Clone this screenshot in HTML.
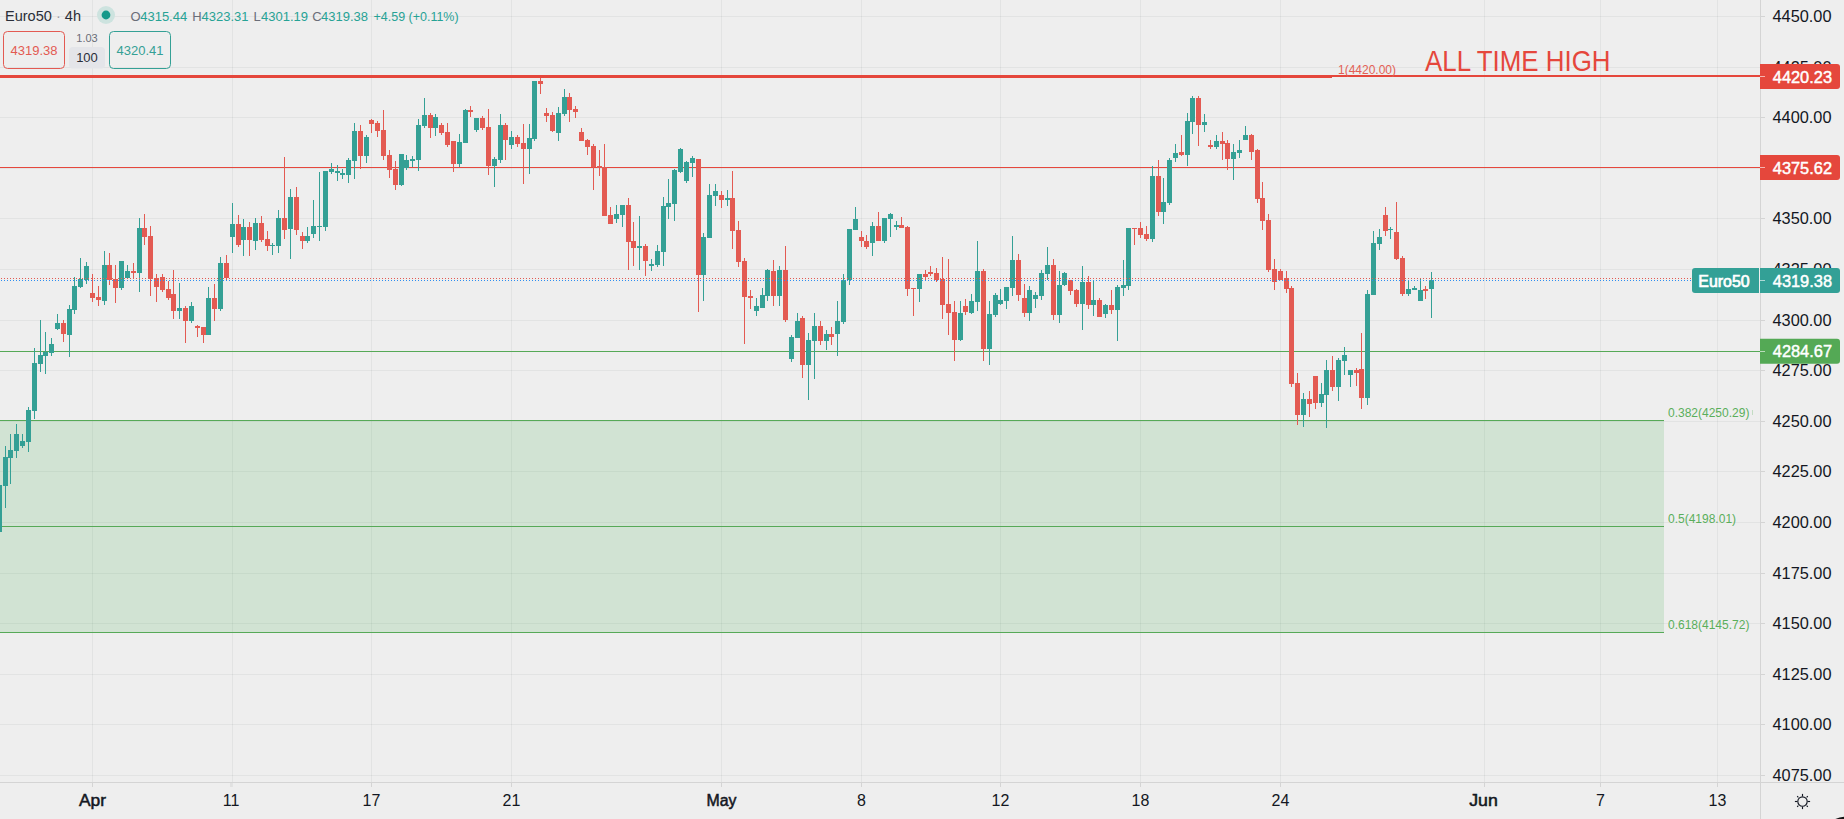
<!DOCTYPE html>
<html><head><meta charset="utf-8"><style>
html,body{margin:0;padding:0;width:1844px;height:819px;overflow:hidden;background:#eeeeee;}
svg{position:absolute;left:0;top:0;display:block}
text{font-family:"Liberation Sans",sans-serif;}
.ax{font-size:16px;fill:#131722;}
.t{font-size:16px;fill:#131722;}
.tb{font-size:16px;fill:#131722;stroke:#131722;stroke-width:0.5px;}
.pl{font-size:16px;fill:#ffffff;stroke:#ffffff;stroke-width:0.45px;}
.fibr{font-size:12px;fill:#e35f55;}
.fibg{font-size:12px;fill:#5aae5b;}
.ath{font-size:29.4px;fill:#e5473c;}
.lg{font-size:15.5px;fill:#2a2e39;}
.ohlc{font-size:13px;fill:#26a295;}
.ohlc[fill]{}
.box{font-size:13px;}
.sm{font-size:11px;fill:#6a6d78;}
</style></head>
<body><svg width="1844" height="819" viewBox="0 0 1844 819">
<rect x="0" y="16" width="1765" height="1" fill="rgba(42,46,57,0.06)"/>
<rect x="0" y="67" width="1765" height="1" fill="rgba(42,46,57,0.06)"/>
<rect x="0" y="117" width="1765" height="1" fill="rgba(42,46,57,0.06)"/>
<rect x="0" y="168" width="1765" height="1" fill="rgba(42,46,57,0.06)"/>
<rect x="0" y="218" width="1765" height="1" fill="rgba(42,46,57,0.06)"/>
<rect x="0" y="269" width="1765" height="1" fill="rgba(42,46,57,0.06)"/>
<rect x="0" y="320" width="1765" height="1" fill="rgba(42,46,57,0.06)"/>
<rect x="0" y="370" width="1765" height="1" fill="rgba(42,46,57,0.06)"/>
<rect x="0" y="421" width="1765" height="1" fill="rgba(42,46,57,0.06)"/>
<rect x="0" y="471" width="1765" height="1" fill="rgba(42,46,57,0.06)"/>
<rect x="0" y="522" width="1765" height="1" fill="rgba(42,46,57,0.06)"/>
<rect x="0" y="573" width="1765" height="1" fill="rgba(42,46,57,0.06)"/>
<rect x="0" y="623" width="1765" height="1" fill="rgba(42,46,57,0.06)"/>
<rect x="0" y="674" width="1765" height="1" fill="rgba(42,46,57,0.06)"/>
<rect x="0" y="724" width="1765" height="1" fill="rgba(42,46,57,0.06)"/>
<rect x="0" y="775" width="1765" height="1" fill="rgba(42,46,57,0.06)"/>
<rect x="92" y="0" width="1" height="787" fill="rgba(42,46,57,0.06)"/>
<rect x="232" y="0" width="1" height="787" fill="rgba(42,46,57,0.06)"/>
<rect x="371" y="0" width="1" height="787" fill="rgba(42,46,57,0.06)"/>
<rect x="511" y="0" width="1" height="787" fill="rgba(42,46,57,0.06)"/>
<rect x="721" y="0" width="1" height="787" fill="rgba(42,46,57,0.06)"/>
<rect x="861" y="0" width="1" height="787" fill="rgba(42,46,57,0.06)"/>
<rect x="1000" y="0" width="1" height="787" fill="rgba(42,46,57,0.06)"/>
<rect x="1140" y="0" width="1" height="787" fill="rgba(42,46,57,0.06)"/>
<rect x="1280" y="0" width="1" height="787" fill="rgba(42,46,57,0.06)"/>
<rect x="1484" y="0" width="1" height="787" fill="rgba(42,46,57,0.06)"/>
<rect x="1600" y="0" width="1" height="787" fill="rgba(42,46,57,0.06)"/>
<rect x="1717" y="0" width="1" height="787" fill="rgba(42,46,57,0.06)"/>
<rect x="0" y="421" width="1664" height="211" fill="rgba(80,175,90,0.18)"/>
<rect x="0" y="420" width="1664" height="1" fill="#56a957"/>
<rect x="0" y="526" width="1664" height="1" fill="#56a957"/>
<rect x="0" y="632" width="1664" height="1" fill="#56a957"/>
<rect x="0" y="75" width="1760" height="2" fill="#e5473c"/>
<rect x="0" y="77" width="1332" height="1" fill="#e5473c"/>
<rect x="0" y="167" width="1760" height="1" fill="#e5473c"/>
<rect x="0" y="351" width="1760" height="1" fill="#56a957"/>
<rect x="-1" y="485" width="1" height="47" fill="#34a095"/>
<rect x="-3" y="485" width="5" height="47" fill="#34a095"/>
<rect x="5" y="446" width="1" height="62" fill="#34a095"/>
<rect x="3" y="457" width="5" height="29" fill="#34a095"/>
<rect x="10" y="434" width="1" height="50" fill="#34a095"/>
<rect x="8" y="450" width="5" height="8" fill="#34a095"/>
<rect x="16" y="424" width="1" height="34" fill="#34a095"/>
<rect x="14" y="434" width="5" height="17" fill="#34a095"/>
<rect x="22" y="434" width="1" height="14" fill="#34a095"/>
<rect x="20" y="441" width="5" height="5" fill="#34a095"/>
<rect x="28" y="407" width="1" height="45" fill="#34a095"/>
<rect x="26" y="410" width="5" height="32" fill="#34a095"/>
<rect x="34" y="348" width="1" height="71" fill="#34a095"/>
<rect x="32" y="363" width="5" height="48" fill="#34a095"/>
<rect x="40" y="320" width="1" height="52" fill="#34a095"/>
<rect x="38" y="355" width="5" height="9" fill="#34a095"/>
<rect x="45" y="332" width="1" height="42" fill="#34a095"/>
<rect x="43" y="352" width="5" height="4" fill="#34a095"/>
<rect x="51" y="338" width="1" height="18" fill="#34a095"/>
<rect x="49" y="344" width="5" height="9" fill="#34a095"/>
<rect x="57" y="314" width="1" height="16" fill="#34a095"/>
<rect x="55" y="323" width="5" height="6" fill="#34a095"/>
<rect x="63" y="320" width="1" height="22" fill="#e35a52"/>
<rect x="61" y="323" width="5" height="11" fill="#e35a52"/>
<rect x="69" y="305" width="1" height="52" fill="#34a095"/>
<rect x="67" y="309" width="5" height="26" fill="#34a095"/>
<rect x="74" y="277" width="1" height="37" fill="#34a095"/>
<rect x="72" y="286" width="5" height="24" fill="#34a095"/>
<rect x="80" y="258" width="1" height="30" fill="#34a095"/>
<rect x="78" y="279" width="5" height="8" fill="#34a095"/>
<rect x="86" y="262" width="1" height="22" fill="#34a095"/>
<rect x="84" y="266" width="5" height="14" fill="#34a095"/>
<rect x="92" y="274" width="1" height="28" fill="#e35a52"/>
<rect x="90" y="293" width="5" height="5" fill="#e35a52"/>
<rect x="98" y="286" width="1" height="20" fill="#e35a52"/>
<rect x="96" y="297" width="5" height="3" fill="#e35a52"/>
<rect x="104" y="251" width="1" height="54" fill="#34a095"/>
<rect x="102" y="265" width="5" height="36" fill="#34a095"/>
<rect x="109" y="253" width="1" height="32" fill="#e35a52"/>
<rect x="107" y="265" width="5" height="15" fill="#e35a52"/>
<rect x="115" y="265" width="1" height="38" fill="#e35a52"/>
<rect x="113" y="279" width="5" height="9" fill="#e35a52"/>
<rect x="121" y="261" width="1" height="29" fill="#34a095"/>
<rect x="119" y="261" width="5" height="27" fill="#34a095"/>
<rect x="127" y="265" width="1" height="13" fill="#34a095"/>
<rect x="125" y="271" width="5" height="7" fill="#34a095"/>
<rect x="133" y="263" width="1" height="16" fill="#e35a52"/>
<rect x="131" y="271" width="5" height="2" fill="#e35a52"/>
<rect x="139" y="218" width="1" height="74" fill="#34a095"/>
<rect x="137" y="228" width="5" height="45" fill="#34a095"/>
<rect x="144" y="214" width="1" height="31" fill="#e35a52"/>
<rect x="142" y="228" width="5" height="9" fill="#e35a52"/>
<rect x="150" y="226" width="1" height="70" fill="#e35a52"/>
<rect x="148" y="236" width="5" height="43" fill="#e35a52"/>
<rect x="156" y="274" width="1" height="28" fill="#e35a52"/>
<rect x="154" y="278" width="5" height="9" fill="#e35a52"/>
<rect x="162" y="274" width="1" height="18" fill="#e35a52"/>
<rect x="160" y="277" width="5" height="13" fill="#e35a52"/>
<rect x="168" y="281" width="1" height="19" fill="#e35a52"/>
<rect x="166" y="289" width="5" height="9" fill="#e35a52"/>
<rect x="173" y="270" width="1" height="49" fill="#e35a52"/>
<rect x="171" y="294" width="5" height="17" fill="#e35a52"/>
<rect x="179" y="283" width="1" height="36" fill="#34a095"/>
<rect x="177" y="308" width="5" height="3" fill="#34a095"/>
<rect x="185" y="306" width="1" height="37" fill="#e35a52"/>
<rect x="183" y="308" width="5" height="13" fill="#e35a52"/>
<rect x="191" y="302" width="1" height="21" fill="#34a095"/>
<rect x="189" y="306" width="5" height="15" fill="#34a095"/>
<rect x="197" y="325" width="1" height="12" fill="#e35a52"/>
<rect x="195" y="326" width="5" height="2" fill="#e35a52"/>
<rect x="203" y="327" width="1" height="16" fill="#e35a52"/>
<rect x="201" y="327" width="5" height="8" fill="#e35a52"/>
<rect x="208" y="287" width="1" height="48" fill="#34a095"/>
<rect x="206" y="298" width="5" height="37" fill="#34a095"/>
<rect x="214" y="284" width="1" height="37" fill="#e35a52"/>
<rect x="212" y="298" width="5" height="11" fill="#e35a52"/>
<rect x="220" y="257" width="1" height="54" fill="#34a095"/>
<rect x="218" y="263" width="5" height="46" fill="#34a095"/>
<rect x="226" y="255" width="1" height="26" fill="#e35a52"/>
<rect x="224" y="263" width="5" height="15" fill="#e35a52"/>
<rect x="232" y="203" width="1" height="50" fill="#34a095"/>
<rect x="230" y="224" width="5" height="13" fill="#34a095"/>
<rect x="238" y="215" width="1" height="32" fill="#e35a52"/>
<rect x="236" y="224" width="5" height="21" fill="#e35a52"/>
<rect x="243" y="219" width="1" height="37" fill="#34a095"/>
<rect x="241" y="227" width="5" height="13" fill="#34a095"/>
<rect x="249" y="222" width="1" height="34" fill="#e35a52"/>
<rect x="247" y="227" width="5" height="13" fill="#e35a52"/>
<rect x="255" y="218" width="1" height="32" fill="#34a095"/>
<rect x="253" y="223" width="5" height="18" fill="#34a095"/>
<rect x="261" y="216" width="1" height="26" fill="#e35a52"/>
<rect x="259" y="223" width="5" height="17" fill="#e35a52"/>
<rect x="267" y="231" width="1" height="20" fill="#e35a52"/>
<rect x="265" y="239" width="5" height="7" fill="#e35a52"/>
<rect x="272" y="243" width="1" height="12" fill="#34a095"/>
<rect x="270" y="245" width="5" height="1" fill="#34a095"/>
<rect x="278" y="210" width="1" height="43" fill="#34a095"/>
<rect x="276" y="218" width="5" height="28" fill="#34a095"/>
<rect x="284" y="157" width="1" height="82" fill="#e35a52"/>
<rect x="282" y="218" width="5" height="12" fill="#e35a52"/>
<rect x="290" y="189" width="1" height="70" fill="#34a095"/>
<rect x="288" y="197" width="5" height="32" fill="#34a095"/>
<rect x="296" y="187" width="1" height="48" fill="#e35a52"/>
<rect x="294" y="197" width="5" height="33" fill="#e35a52"/>
<rect x="302" y="232" width="1" height="17" fill="#e35a52"/>
<rect x="300" y="236" width="5" height="5" fill="#e35a52"/>
<rect x="307" y="227" width="1" height="16" fill="#34a095"/>
<rect x="305" y="236" width="5" height="5" fill="#34a095"/>
<rect x="313" y="200" width="1" height="38" fill="#34a095"/>
<rect x="311" y="226" width="5" height="8" fill="#34a095"/>
<rect x="319" y="172" width="1" height="69" fill="#34a095"/>
<rect x="317" y="226" width="5" height="1" fill="#34a095"/>
<rect x="325" y="171" width="1" height="60" fill="#34a095"/>
<rect x="323" y="171" width="5" height="56" fill="#34a095"/>
<rect x="331" y="163" width="1" height="11" fill="#34a095"/>
<rect x="329" y="169" width="5" height="3" fill="#34a095"/>
<rect x="337" y="165" width="1" height="16" fill="#34a095"/>
<rect x="335" y="171" width="5" height="2" fill="#34a095"/>
<rect x="342" y="169" width="1" height="10" fill="#34a095"/>
<rect x="340" y="173" width="5" height="2" fill="#34a095"/>
<rect x="348" y="158" width="1" height="25" fill="#34a095"/>
<rect x="346" y="160" width="5" height="15" fill="#34a095"/>
<rect x="354" y="123" width="1" height="56" fill="#34a095"/>
<rect x="352" y="131" width="5" height="30" fill="#34a095"/>
<rect x="360" y="125" width="1" height="44" fill="#e35a52"/>
<rect x="358" y="131" width="5" height="25" fill="#e35a52"/>
<rect x="366" y="135" width="1" height="28" fill="#34a095"/>
<rect x="364" y="137" width="5" height="19" fill="#34a095"/>
<rect x="371" y="119" width="1" height="14" fill="#e35a52"/>
<rect x="369" y="120" width="5" height="4" fill="#e35a52"/>
<rect x="377" y="121" width="1" height="16" fill="#e35a52"/>
<rect x="375" y="123" width="5" height="8" fill="#e35a52"/>
<rect x="383" y="110" width="1" height="50" fill="#e35a52"/>
<rect x="381" y="130" width="5" height="26" fill="#e35a52"/>
<rect x="389" y="150" width="1" height="28" fill="#e35a52"/>
<rect x="387" y="155" width="5" height="15" fill="#e35a52"/>
<rect x="395" y="161" width="1" height="29" fill="#e35a52"/>
<rect x="393" y="169" width="5" height="16" fill="#e35a52"/>
<rect x="401" y="154" width="1" height="32" fill="#34a095"/>
<rect x="399" y="154" width="5" height="31" fill="#34a095"/>
<rect x="406" y="155" width="1" height="15" fill="#34a095"/>
<rect x="404" y="160" width="5" height="8" fill="#34a095"/>
<rect x="412" y="156" width="1" height="11" fill="#34a095"/>
<rect x="410" y="159" width="5" height="2" fill="#34a095"/>
<rect x="418" y="119" width="1" height="52" fill="#34a095"/>
<rect x="416" y="125" width="5" height="35" fill="#34a095"/>
<rect x="424" y="98" width="1" height="30" fill="#34a095"/>
<rect x="422" y="115" width="5" height="11" fill="#34a095"/>
<rect x="430" y="113" width="1" height="25" fill="#e35a52"/>
<rect x="428" y="115" width="5" height="13" fill="#e35a52"/>
<rect x="435" y="114" width="1" height="22" fill="#34a095"/>
<rect x="433" y="117" width="5" height="11" fill="#34a095"/>
<rect x="441" y="123" width="1" height="12" fill="#e35a52"/>
<rect x="439" y="125" width="5" height="8" fill="#e35a52"/>
<rect x="447" y="123" width="1" height="24" fill="#e35a52"/>
<rect x="445" y="132" width="5" height="13" fill="#e35a52"/>
<rect x="453" y="141" width="1" height="31" fill="#e35a52"/>
<rect x="451" y="141" width="5" height="23" fill="#e35a52"/>
<rect x="459" y="134" width="1" height="33" fill="#34a095"/>
<rect x="457" y="142" width="5" height="22" fill="#34a095"/>
<rect x="465" y="109" width="1" height="34" fill="#34a095"/>
<rect x="463" y="110" width="5" height="33" fill="#34a095"/>
<rect x="470" y="106" width="1" height="11" fill="#e35a52"/>
<rect x="468" y="110" width="5" height="2" fill="#e35a52"/>
<rect x="476" y="118" width="1" height="14" fill="#34a095"/>
<rect x="474" y="118" width="5" height="12" fill="#34a095"/>
<rect x="482" y="116" width="1" height="14" fill="#e35a52"/>
<rect x="480" y="118" width="5" height="10" fill="#e35a52"/>
<rect x="488" y="109" width="1" height="66" fill="#e35a52"/>
<rect x="486" y="127" width="5" height="39" fill="#e35a52"/>
<rect x="494" y="157" width="1" height="30" fill="#34a095"/>
<rect x="492" y="159" width="5" height="7" fill="#34a095"/>
<rect x="500" y="114" width="1" height="49" fill="#34a095"/>
<rect x="498" y="125" width="5" height="35" fill="#34a095"/>
<rect x="505" y="123" width="1" height="37" fill="#e35a52"/>
<rect x="503" y="125" width="5" height="15" fill="#e35a52"/>
<rect x="511" y="131" width="1" height="18" fill="#34a095"/>
<rect x="509" y="137" width="5" height="8" fill="#34a095"/>
<rect x="517" y="135" width="1" height="12" fill="#e35a52"/>
<rect x="515" y="137" width="5" height="7" fill="#e35a52"/>
<rect x="523" y="124" width="1" height="60" fill="#e35a52"/>
<rect x="521" y="143" width="5" height="6" fill="#e35a52"/>
<rect x="529" y="124" width="1" height="50" fill="#34a095"/>
<rect x="527" y="138" width="5" height="11" fill="#34a095"/>
<rect x="534" y="81" width="1" height="60" fill="#34a095"/>
<rect x="532" y="81" width="5" height="58" fill="#34a095"/>
<rect x="540" y="78" width="1" height="16" fill="#e35a52"/>
<rect x="538" y="81" width="5" height="3" fill="#e35a52"/>
<rect x="546" y="108" width="1" height="14" fill="#e35a52"/>
<rect x="544" y="113" width="5" height="3" fill="#e35a52"/>
<rect x="552" y="112" width="1" height="20" fill="#e35a52"/>
<rect x="550" y="115" width="5" height="16" fill="#e35a52"/>
<rect x="558" y="107" width="1" height="34" fill="#34a095"/>
<rect x="556" y="113" width="5" height="20" fill="#34a095"/>
<rect x="564" y="89" width="1" height="27" fill="#34a095"/>
<rect x="562" y="97" width="5" height="17" fill="#34a095"/>
<rect x="569" y="93" width="1" height="29" fill="#e35a52"/>
<rect x="567" y="97" width="5" height="13" fill="#e35a52"/>
<rect x="575" y="106" width="1" height="12" fill="#e35a52"/>
<rect x="573" y="109" width="5" height="3" fill="#e35a52"/>
<rect x="581" y="128" width="1" height="13" fill="#e35a52"/>
<rect x="579" y="132" width="5" height="9" fill="#e35a52"/>
<rect x="587" y="139" width="1" height="16" fill="#e35a52"/>
<rect x="585" y="140" width="5" height="7" fill="#e35a52"/>
<rect x="593" y="144" width="1" height="46" fill="#e35a52"/>
<rect x="591" y="146" width="5" height="21" fill="#e35a52"/>
<rect x="599" y="150" width="1" height="26" fill="#e35a52"/>
<rect x="597" y="166" width="5" height="2" fill="#e35a52"/>
<rect x="604" y="144" width="1" height="72" fill="#e35a52"/>
<rect x="602" y="167" width="5" height="49" fill="#e35a52"/>
<rect x="610" y="207" width="1" height="17" fill="#e35a52"/>
<rect x="608" y="215" width="5" height="9" fill="#e35a52"/>
<rect x="616" y="205" width="1" height="18" fill="#34a095"/>
<rect x="614" y="214" width="5" height="5" fill="#34a095"/>
<rect x="622" y="205" width="1" height="22" fill="#34a095"/>
<rect x="620" y="205" width="5" height="10" fill="#34a095"/>
<rect x="628" y="198" width="1" height="72" fill="#e35a52"/>
<rect x="626" y="205" width="5" height="37" fill="#e35a52"/>
<rect x="633" y="222" width="1" height="44" fill="#e35a52"/>
<rect x="631" y="241" width="5" height="7" fill="#e35a52"/>
<rect x="639" y="216" width="1" height="54" fill="#34a095"/>
<rect x="637" y="246" width="5" height="2" fill="#34a095"/>
<rect x="645" y="244" width="1" height="32" fill="#e35a52"/>
<rect x="643" y="246" width="5" height="15" fill="#e35a52"/>
<rect x="651" y="259" width="1" height="12" fill="#34a095"/>
<rect x="649" y="264" width="5" height="2" fill="#34a095"/>
<rect x="657" y="245" width="1" height="22" fill="#34a095"/>
<rect x="655" y="251" width="5" height="14" fill="#34a095"/>
<rect x="663" y="197" width="1" height="69" fill="#34a095"/>
<rect x="661" y="206" width="5" height="46" fill="#34a095"/>
<rect x="668" y="179" width="1" height="40" fill="#34a095"/>
<rect x="666" y="203" width="5" height="4" fill="#34a095"/>
<rect x="674" y="169" width="1" height="52" fill="#34a095"/>
<rect x="672" y="170" width="5" height="34" fill="#34a095"/>
<rect x="680" y="148" width="1" height="25" fill="#34a095"/>
<rect x="678" y="149" width="5" height="23" fill="#34a095"/>
<rect x="686" y="161" width="1" height="22" fill="#34a095"/>
<rect x="684" y="162" width="5" height="19" fill="#34a095"/>
<rect x="692" y="156" width="1" height="21" fill="#34a095"/>
<rect x="690" y="158" width="5" height="5" fill="#34a095"/>
<rect x="698" y="159" width="1" height="153" fill="#e35a52"/>
<rect x="696" y="159" width="5" height="116" fill="#e35a52"/>
<rect x="703" y="233" width="1" height="68" fill="#34a095"/>
<rect x="701" y="237" width="5" height="38" fill="#34a095"/>
<rect x="709" y="184" width="1" height="54" fill="#34a095"/>
<rect x="707" y="195" width="5" height="43" fill="#34a095"/>
<rect x="715" y="184" width="1" height="22" fill="#34a095"/>
<rect x="713" y="191" width="5" height="5" fill="#34a095"/>
<rect x="721" y="191" width="1" height="17" fill="#e35a52"/>
<rect x="719" y="195" width="5" height="5" fill="#e35a52"/>
<rect x="727" y="190" width="1" height="16" fill="#34a095"/>
<rect x="725" y="198" width="5" height="2" fill="#34a095"/>
<rect x="732" y="171" width="1" height="78" fill="#e35a52"/>
<rect x="730" y="198" width="5" height="33" fill="#e35a52"/>
<rect x="738" y="221" width="1" height="46" fill="#e35a52"/>
<rect x="736" y="230" width="5" height="32" fill="#e35a52"/>
<rect x="744" y="258" width="1" height="86" fill="#e35a52"/>
<rect x="742" y="261" width="5" height="36" fill="#e35a52"/>
<rect x="750" y="290" width="1" height="19" fill="#e35a52"/>
<rect x="748" y="296" width="5" height="2" fill="#e35a52"/>
<rect x="756" y="298" width="1" height="18" fill="#34a095"/>
<rect x="754" y="306" width="5" height="5" fill="#34a095"/>
<rect x="762" y="288" width="1" height="20" fill="#34a095"/>
<rect x="760" y="295" width="5" height="13" fill="#34a095"/>
<rect x="767" y="269" width="1" height="32" fill="#34a095"/>
<rect x="765" y="270" width="5" height="26" fill="#34a095"/>
<rect x="773" y="260" width="1" height="46" fill="#e35a52"/>
<rect x="771" y="271" width="5" height="25" fill="#e35a52"/>
<rect x="779" y="266" width="1" height="40" fill="#34a095"/>
<rect x="777" y="270" width="5" height="26" fill="#34a095"/>
<rect x="785" y="246" width="1" height="76" fill="#e35a52"/>
<rect x="783" y="270" width="5" height="50" fill="#e35a52"/>
<rect x="791" y="335" width="1" height="27" fill="#34a095"/>
<rect x="789" y="337" width="5" height="22" fill="#34a095"/>
<rect x="797" y="313" width="1" height="25" fill="#34a095"/>
<rect x="795" y="321" width="5" height="17" fill="#34a095"/>
<rect x="802" y="316" width="1" height="62" fill="#e35a52"/>
<rect x="800" y="318" width="5" height="47" fill="#e35a52"/>
<rect x="808" y="333" width="1" height="67" fill="#34a095"/>
<rect x="806" y="340" width="5" height="25" fill="#34a095"/>
<rect x="814" y="313" width="1" height="66" fill="#34a095"/>
<rect x="812" y="326" width="5" height="15" fill="#34a095"/>
<rect x="820" y="321" width="1" height="24" fill="#e35a52"/>
<rect x="818" y="326" width="5" height="15" fill="#e35a52"/>
<rect x="826" y="330" width="1" height="20" fill="#34a095"/>
<rect x="824" y="334" width="5" height="7" fill="#34a095"/>
<rect x="831" y="327" width="1" height="18" fill="#e35a52"/>
<rect x="829" y="334" width="5" height="3" fill="#e35a52"/>
<rect x="837" y="301" width="1" height="55" fill="#34a095"/>
<rect x="835" y="321" width="5" height="13" fill="#34a095"/>
<rect x="843" y="274" width="1" height="50" fill="#34a095"/>
<rect x="841" y="280" width="5" height="42" fill="#34a095"/>
<rect x="849" y="229" width="1" height="56" fill="#34a095"/>
<rect x="847" y="229" width="5" height="51" fill="#34a095"/>
<rect x="855" y="207" width="1" height="23" fill="#34a095"/>
<rect x="853" y="219" width="5" height="11" fill="#34a095"/>
<rect x="861" y="231" width="1" height="16" fill="#e35a52"/>
<rect x="859" y="237" width="5" height="4" fill="#e35a52"/>
<rect x="866" y="235" width="1" height="14" fill="#e35a52"/>
<rect x="864" y="241" width="5" height="6" fill="#e35a52"/>
<rect x="872" y="222" width="1" height="34" fill="#34a095"/>
<rect x="870" y="226" width="5" height="17" fill="#34a095"/>
<rect x="878" y="212" width="1" height="29" fill="#e35a52"/>
<rect x="876" y="226" width="5" height="15" fill="#e35a52"/>
<rect x="884" y="218" width="1" height="25" fill="#34a095"/>
<rect x="882" y="218" width="5" height="23" fill="#34a095"/>
<rect x="890" y="213" width="1" height="24" fill="#34a095"/>
<rect x="888" y="214" width="5" height="5" fill="#34a095"/>
<rect x="896" y="221" width="1" height="9" fill="#34a095"/>
<rect x="894" y="225" width="5" height="2" fill="#34a095"/>
<rect x="901" y="217" width="1" height="11" fill="#e35a52"/>
<rect x="899" y="225" width="5" height="3" fill="#e35a52"/>
<rect x="907" y="226" width="1" height="70" fill="#e35a52"/>
<rect x="905" y="227" width="5" height="62" fill="#e35a52"/>
<rect x="913" y="288" width="1" height="28" fill="#e35a52"/>
<rect x="911" y="288" width="5" height="1" fill="#e35a52"/>
<rect x="919" y="274" width="1" height="28" fill="#34a095"/>
<rect x="917" y="274" width="5" height="15" fill="#34a095"/>
<rect x="925" y="270" width="1" height="10" fill="#e35a52"/>
<rect x="923" y="274" width="5" height="3" fill="#e35a52"/>
<rect x="930" y="266" width="1" height="10" fill="#e35a52"/>
<rect x="928" y="272" width="5" height="2" fill="#e35a52"/>
<rect x="936" y="268" width="1" height="14" fill="#e35a52"/>
<rect x="934" y="273" width="5" height="7" fill="#e35a52"/>
<rect x="942" y="257" width="1" height="62" fill="#e35a52"/>
<rect x="940" y="279" width="5" height="26" fill="#e35a52"/>
<rect x="948" y="259" width="1" height="76" fill="#e35a52"/>
<rect x="946" y="304" width="5" height="9" fill="#e35a52"/>
<rect x="954" y="301" width="1" height="60" fill="#e35a52"/>
<rect x="952" y="312" width="5" height="28" fill="#e35a52"/>
<rect x="960" y="301" width="1" height="40" fill="#34a095"/>
<rect x="958" y="313" width="5" height="27" fill="#34a095"/>
<rect x="965" y="299" width="1" height="16" fill="#e35a52"/>
<rect x="963" y="306" width="5" height="6" fill="#e35a52"/>
<rect x="971" y="294" width="1" height="20" fill="#34a095"/>
<rect x="969" y="301" width="5" height="12" fill="#34a095"/>
<rect x="977" y="241" width="1" height="70" fill="#34a095"/>
<rect x="975" y="271" width="5" height="31" fill="#34a095"/>
<rect x="983" y="269" width="1" height="92" fill="#e35a52"/>
<rect x="981" y="271" width="5" height="78" fill="#e35a52"/>
<rect x="989" y="301" width="1" height="64" fill="#34a095"/>
<rect x="987" y="314" width="5" height="35" fill="#34a095"/>
<rect x="995" y="293" width="1" height="24" fill="#34a095"/>
<rect x="993" y="295" width="5" height="20" fill="#34a095"/>
<rect x="1000" y="289" width="1" height="16" fill="#34a095"/>
<rect x="998" y="300" width="5" height="4" fill="#34a095"/>
<rect x="1006" y="287" width="1" height="22" fill="#34a095"/>
<rect x="1004" y="287" width="5" height="14" fill="#34a095"/>
<rect x="1012" y="236" width="1" height="60" fill="#34a095"/>
<rect x="1010" y="260" width="5" height="28" fill="#34a095"/>
<rect x="1018" y="254" width="1" height="47" fill="#e35a52"/>
<rect x="1016" y="260" width="5" height="35" fill="#e35a52"/>
<rect x="1024" y="284" width="1" height="33" fill="#e35a52"/>
<rect x="1022" y="298" width="5" height="15" fill="#e35a52"/>
<rect x="1029" y="286" width="1" height="35" fill="#34a095"/>
<rect x="1027" y="290" width="5" height="23" fill="#34a095"/>
<rect x="1035" y="292" width="1" height="16" fill="#34a095"/>
<rect x="1033" y="295" width="5" height="4" fill="#34a095"/>
<rect x="1041" y="270" width="1" height="30" fill="#34a095"/>
<rect x="1039" y="273" width="5" height="23" fill="#34a095"/>
<rect x="1047" y="247" width="1" height="33" fill="#34a095"/>
<rect x="1045" y="265" width="5" height="9" fill="#34a095"/>
<rect x="1053" y="259" width="1" height="61" fill="#e35a52"/>
<rect x="1051" y="265" width="5" height="50" fill="#e35a52"/>
<rect x="1059" y="271" width="1" height="52" fill="#34a095"/>
<rect x="1057" y="285" width="5" height="30" fill="#34a095"/>
<rect x="1064" y="272" width="1" height="14" fill="#34a095"/>
<rect x="1062" y="273" width="5" height="12" fill="#34a095"/>
<rect x="1070" y="280" width="1" height="15" fill="#e35a52"/>
<rect x="1068" y="280" width="5" height="11" fill="#e35a52"/>
<rect x="1076" y="289" width="1" height="18" fill="#e35a52"/>
<rect x="1074" y="290" width="5" height="14" fill="#e35a52"/>
<rect x="1082" y="266" width="1" height="64" fill="#34a095"/>
<rect x="1080" y="282" width="5" height="22" fill="#34a095"/>
<rect x="1088" y="276" width="1" height="33" fill="#e35a52"/>
<rect x="1086" y="282" width="5" height="23" fill="#e35a52"/>
<rect x="1093" y="280" width="1" height="36" fill="#34a095"/>
<rect x="1091" y="300" width="5" height="5" fill="#34a095"/>
<rect x="1099" y="298" width="1" height="19" fill="#e35a52"/>
<rect x="1097" y="300" width="5" height="17" fill="#e35a52"/>
<rect x="1105" y="304" width="1" height="14" fill="#34a095"/>
<rect x="1103" y="305" width="5" height="9" fill="#34a095"/>
<rect x="1111" y="290" width="1" height="24" fill="#e35a52"/>
<rect x="1109" y="305" width="5" height="5" fill="#e35a52"/>
<rect x="1117" y="285" width="1" height="56" fill="#34a095"/>
<rect x="1115" y="287" width="5" height="23" fill="#34a095"/>
<rect x="1123" y="260" width="1" height="36" fill="#34a095"/>
<rect x="1121" y="285" width="5" height="3" fill="#34a095"/>
<rect x="1128" y="228" width="1" height="62" fill="#34a095"/>
<rect x="1126" y="228" width="5" height="58" fill="#34a095"/>
<rect x="1134" y="228" width="1" height="17" fill="#e35a52"/>
<rect x="1132" y="228" width="5" height="1" fill="#e35a52"/>
<rect x="1140" y="222" width="1" height="16" fill="#e35a52"/>
<rect x="1138" y="228" width="5" height="7" fill="#e35a52"/>
<rect x="1146" y="226" width="1" height="15" fill="#e35a52"/>
<rect x="1144" y="234" width="5" height="5" fill="#e35a52"/>
<rect x="1152" y="166" width="1" height="76" fill="#34a095"/>
<rect x="1150" y="176" width="5" height="63" fill="#34a095"/>
<rect x="1158" y="160" width="1" height="56" fill="#e35a52"/>
<rect x="1156" y="176" width="5" height="36" fill="#e35a52"/>
<rect x="1163" y="178" width="1" height="46" fill="#34a095"/>
<rect x="1161" y="202" width="5" height="10" fill="#34a095"/>
<rect x="1169" y="158" width="1" height="47" fill="#34a095"/>
<rect x="1167" y="160" width="5" height="43" fill="#34a095"/>
<rect x="1175" y="144" width="1" height="18" fill="#34a095"/>
<rect x="1173" y="153" width="5" height="5" fill="#34a095"/>
<rect x="1181" y="135" width="1" height="21" fill="#e35a52"/>
<rect x="1179" y="152" width="5" height="3" fill="#e35a52"/>
<rect x="1187" y="113" width="1" height="53" fill="#34a095"/>
<rect x="1185" y="121" width="5" height="34" fill="#34a095"/>
<rect x="1192" y="96" width="1" height="38" fill="#34a095"/>
<rect x="1190" y="98" width="5" height="24" fill="#34a095"/>
<rect x="1198" y="96" width="1" height="50" fill="#e35a52"/>
<rect x="1196" y="98" width="5" height="27" fill="#e35a52"/>
<rect x="1204" y="114" width="1" height="18" fill="#34a095"/>
<rect x="1202" y="122" width="5" height="3" fill="#34a095"/>
<rect x="1210" y="140" width="1" height="9" fill="#e35a52"/>
<rect x="1208" y="145" width="5" height="2" fill="#e35a52"/>
<rect x="1216" y="135" width="1" height="14" fill="#34a095"/>
<rect x="1214" y="141" width="5" height="6" fill="#34a095"/>
<rect x="1222" y="132" width="1" height="28" fill="#e35a52"/>
<rect x="1220" y="141" width="5" height="3" fill="#e35a52"/>
<rect x="1227" y="140" width="1" height="30" fill="#e35a52"/>
<rect x="1225" y="143" width="5" height="16" fill="#e35a52"/>
<rect x="1233" y="144" width="1" height="36" fill="#34a095"/>
<rect x="1231" y="152" width="5" height="7" fill="#34a095"/>
<rect x="1239" y="140" width="1" height="18" fill="#34a095"/>
<rect x="1237" y="150" width="5" height="3" fill="#34a095"/>
<rect x="1245" y="126" width="1" height="14" fill="#34a095"/>
<rect x="1243" y="135" width="5" height="5" fill="#34a095"/>
<rect x="1251" y="134" width="1" height="26" fill="#e35a52"/>
<rect x="1249" y="135" width="5" height="17" fill="#e35a52"/>
<rect x="1257" y="149" width="1" height="54" fill="#e35a52"/>
<rect x="1255" y="150" width="5" height="49" fill="#e35a52"/>
<rect x="1262" y="182" width="1" height="48" fill="#e35a52"/>
<rect x="1260" y="198" width="5" height="23" fill="#e35a52"/>
<rect x="1268" y="214" width="1" height="58" fill="#e35a52"/>
<rect x="1266" y="220" width="5" height="50" fill="#e35a52"/>
<rect x="1274" y="259" width="1" height="31" fill="#e35a52"/>
<rect x="1272" y="269" width="5" height="13" fill="#e35a52"/>
<rect x="1280" y="269" width="1" height="11" fill="#e35a52"/>
<rect x="1278" y="271" width="5" height="9" fill="#e35a52"/>
<rect x="1286" y="271" width="1" height="22" fill="#e35a52"/>
<rect x="1284" y="278" width="5" height="11" fill="#e35a52"/>
<rect x="1291" y="286" width="1" height="101" fill="#e35a52"/>
<rect x="1289" y="288" width="5" height="96" fill="#e35a52"/>
<rect x="1297" y="373" width="1" height="52" fill="#e35a52"/>
<rect x="1295" y="383" width="5" height="32" fill="#e35a52"/>
<rect x="1303" y="393" width="1" height="34" fill="#34a095"/>
<rect x="1301" y="399" width="5" height="16" fill="#34a095"/>
<rect x="1309" y="391" width="1" height="26" fill="#e35a52"/>
<rect x="1307" y="399" width="5" height="5" fill="#e35a52"/>
<rect x="1315" y="376" width="1" height="33" fill="#e35a52"/>
<rect x="1313" y="376" width="5" height="27" fill="#e35a52"/>
<rect x="1321" y="383" width="1" height="24" fill="#34a095"/>
<rect x="1319" y="394" width="5" height="9" fill="#34a095"/>
<rect x="1326" y="360" width="1" height="68" fill="#34a095"/>
<rect x="1324" y="370" width="5" height="25" fill="#34a095"/>
<rect x="1332" y="356" width="1" height="35" fill="#e35a52"/>
<rect x="1330" y="370" width="5" height="17" fill="#e35a52"/>
<rect x="1338" y="358" width="1" height="43" fill="#34a095"/>
<rect x="1336" y="360" width="5" height="27" fill="#34a095"/>
<rect x="1344" y="347" width="1" height="28" fill="#34a095"/>
<rect x="1342" y="355" width="5" height="6" fill="#34a095"/>
<rect x="1350" y="370" width="1" height="17" fill="#34a095"/>
<rect x="1348" y="370" width="5" height="5" fill="#34a095"/>
<rect x="1356" y="368" width="1" height="18" fill="#e35a52"/>
<rect x="1354" y="370" width="5" height="3" fill="#e35a52"/>
<rect x="1361" y="333" width="1" height="76" fill="#e35a52"/>
<rect x="1359" y="369" width="5" height="29" fill="#e35a52"/>
<rect x="1367" y="290" width="1" height="115" fill="#34a095"/>
<rect x="1365" y="294" width="5" height="104" fill="#34a095"/>
<rect x="1373" y="231" width="1" height="64" fill="#34a095"/>
<rect x="1371" y="243" width="5" height="52" fill="#34a095"/>
<rect x="1379" y="229" width="1" height="21" fill="#34a095"/>
<rect x="1377" y="237" width="5" height="7" fill="#34a095"/>
<rect x="1385" y="207" width="1" height="29" fill="#e35a52"/>
<rect x="1383" y="215" width="5" height="16" fill="#e35a52"/>
<rect x="1390" y="227" width="1" height="12" fill="#34a095"/>
<rect x="1388" y="229" width="5" height="1" fill="#34a095"/>
<rect x="1396" y="202" width="1" height="58" fill="#e35a52"/>
<rect x="1394" y="232" width="5" height="27" fill="#e35a52"/>
<rect x="1402" y="256" width="1" height="40" fill="#e35a52"/>
<rect x="1400" y="258" width="5" height="36" fill="#e35a52"/>
<rect x="1408" y="280" width="1" height="16" fill="#34a095"/>
<rect x="1406" y="289" width="5" height="5" fill="#34a095"/>
<rect x="1414" y="286" width="1" height="4" fill="#34a095"/>
<rect x="1412" y="288" width="5" height="2" fill="#34a095"/>
<rect x="1420" y="279" width="1" height="22" fill="#34a095"/>
<rect x="1418" y="290" width="5" height="11" fill="#34a095"/>
<rect x="1425" y="286" width="1" height="13" fill="#e35a52"/>
<rect x="1423" y="289" width="5" height="2" fill="#e35a52"/>
<rect x="1431" y="272" width="1" height="46" fill="#34a095"/>
<rect x="1429" y="280" width="5" height="9" fill="#34a095"/>
<line x1="1" y1="278.5" x2="1692" y2="278.5" stroke="#e35a52" stroke-width="1" stroke-dasharray="1,2"/>
<line x1="1" y1="280.5" x2="1692" y2="280.5" stroke="#2e8ef0" stroke-width="1" stroke-dasharray="1,2"/>
<rect x="0" y="782" width="1844" height="1" fill="#d4d4d4"/>
<rect x="1760" y="0" width="1" height="819" fill="#d4d4d4"/>
<rect x="1760" y="16" width="5" height="1" fill="#d4d4d4"/>
<text x="1772.5" y="22" class="ax" textLength="59" lengthAdjust="spacingAndGlyphs">4450.00</text>
<rect x="1760" y="67" width="5" height="1" fill="#d4d4d4"/>
<text x="1772.5" y="73" class="ax" textLength="59" lengthAdjust="spacingAndGlyphs">4425.00</text>
<rect x="1760" y="117" width="5" height="1" fill="#d4d4d4"/>
<text x="1772.5" y="123" class="ax" textLength="59" lengthAdjust="spacingAndGlyphs">4400.00</text>
<rect x="1760" y="168" width="5" height="1" fill="#d4d4d4"/>
<text x="1772.5" y="174" class="ax" textLength="59" lengthAdjust="spacingAndGlyphs">4375.00</text>
<rect x="1760" y="218" width="5" height="1" fill="#d4d4d4"/>
<text x="1772.5" y="224" class="ax" textLength="59" lengthAdjust="spacingAndGlyphs">4350.00</text>
<rect x="1760" y="269" width="5" height="1" fill="#d4d4d4"/>
<text x="1772.5" y="275" class="ax" textLength="59" lengthAdjust="spacingAndGlyphs">4325.00</text>
<rect x="1760" y="320" width="5" height="1" fill="#d4d4d4"/>
<text x="1772.5" y="326" class="ax" textLength="59" lengthAdjust="spacingAndGlyphs">4300.00</text>
<rect x="1760" y="370" width="5" height="1" fill="#d4d4d4"/>
<text x="1772.5" y="376" class="ax" textLength="59" lengthAdjust="spacingAndGlyphs">4275.00</text>
<rect x="1760" y="421" width="5" height="1" fill="#d4d4d4"/>
<text x="1772.5" y="427" class="ax" textLength="59" lengthAdjust="spacingAndGlyphs">4250.00</text>
<rect x="1760" y="471" width="5" height="1" fill="#d4d4d4"/>
<text x="1772.5" y="477" class="ax" textLength="59" lengthAdjust="spacingAndGlyphs">4225.00</text>
<rect x="1760" y="522" width="5" height="1" fill="#d4d4d4"/>
<text x="1772.5" y="528" class="ax" textLength="59" lengthAdjust="spacingAndGlyphs">4200.00</text>
<rect x="1760" y="573" width="5" height="1" fill="#d4d4d4"/>
<text x="1772.5" y="579" class="ax" textLength="59" lengthAdjust="spacingAndGlyphs">4175.00</text>
<rect x="1760" y="623" width="5" height="1" fill="#d4d4d4"/>
<text x="1772.5" y="629" class="ax" textLength="59" lengthAdjust="spacingAndGlyphs">4150.00</text>
<rect x="1760" y="674" width="5" height="1" fill="#d4d4d4"/>
<text x="1772.5" y="680" class="ax" textLength="59" lengthAdjust="spacingAndGlyphs">4125.00</text>
<rect x="1760" y="724" width="5" height="1" fill="#d4d4d4"/>
<text x="1772.5" y="730" class="ax" textLength="59" lengthAdjust="spacingAndGlyphs">4100.00</text>
<rect x="1760" y="775" width="5" height="1" fill="#d4d4d4"/>
<text x="1772.5" y="781" class="ax" textLength="59" lengthAdjust="spacingAndGlyphs">4075.00</text>
<rect x="92" y="782" width="1" height="5" fill="#d4d4d4"/>
<text x="92.5" y="806" class="tb" text-anchor="middle" textLength="27.0" lengthAdjust="spacingAndGlyphs">Apr</text>
<rect x="230.5" y="782" width="1" height="5" fill="#d4d4d4"/>
<text x="231.0" y="806" class="t" text-anchor="middle">11</text>
<rect x="371" y="782" width="1" height="5" fill="#d4d4d4"/>
<text x="371.5" y="806" class="t" text-anchor="middle">17</text>
<rect x="511" y="782" width="1" height="5" fill="#d4d4d4"/>
<text x="511.5" y="806" class="t" text-anchor="middle">21</text>
<rect x="721" y="782" width="1" height="5" fill="#d4d4d4"/>
<text x="721.5" y="806" class="tb" text-anchor="middle" textLength="30.0" lengthAdjust="spacingAndGlyphs">May</text>
<rect x="861" y="782" width="1" height="5" fill="#d4d4d4"/>
<text x="861.5" y="806" class="t" text-anchor="middle">8</text>
<rect x="1000" y="782" width="1" height="5" fill="#d4d4d4"/>
<text x="1000.5" y="806" class="t" text-anchor="middle">12</text>
<rect x="1140" y="782" width="1" height="5" fill="#d4d4d4"/>
<text x="1140.5" y="806" class="t" text-anchor="middle">18</text>
<rect x="1280" y="782" width="1" height="5" fill="#d4d4d4"/>
<text x="1280.5" y="806" class="t" text-anchor="middle">24</text>
<rect x="1484" y="782" width="1" height="5" fill="#d4d4d4"/>
<text x="1483.5" y="806" class="tb" text-anchor="middle" textLength="28.6" lengthAdjust="spacingAndGlyphs">Jun</text>
<rect x="1600" y="782" width="1" height="5" fill="#d4d4d4"/>
<text x="1600.5" y="806" class="t" text-anchor="middle">7</text>
<rect x="1717" y="782" width="1" height="5" fill="#d4d4d4"/>
<text x="1717.5" y="806" class="t" text-anchor="middle">13</text>
<path d="M1760 64.0 h77 a3 3 0 0 1 3 3 v19 a3 3 0 0 1 -3 3 h-77 z" fill="#e5473c"/><rect x="1760" y="76" width="5" height="1" fill="#ffffff" opacity="0.6"/><text x="1772.8" y="82.5" class="pl" textLength="59.2" lengthAdjust="spacingAndGlyphs">4420.23</text>
<path d="M1760 155.0 h77 a3 3 0 0 1 3 3 v19 a3 3 0 0 1 -3 3 h-77 z" fill="#e5473c"/><rect x="1760" y="167" width="5" height="1" fill="#ffffff" opacity="0.6"/><text x="1772.8" y="173.5" class="pl" textLength="59.2" lengthAdjust="spacingAndGlyphs">4375.62</text>
<path d="M1760 268.0 h77 a3 3 0 0 1 3 3 v19 a3 3 0 0 1 -3 3 h-77 z" fill="#33a096"/><rect x="1760" y="280" width="5" height="1" fill="#ffffff" opacity="0.6"/><text x="1772.8" y="286.5" class="pl" textLength="59.2" lengthAdjust="spacingAndGlyphs">4319.38</text>
<path d="M1760 338.7 h77 a3 3 0 0 1 3 3 v19 a3 3 0 0 1 -3 3 h-77 z" fill="#54a955"/><rect x="1760" y="351" width="5" height="1" fill="#ffffff" opacity="0.6"/><text x="1772.8" y="357.2" class="pl" textLength="59.2" lengthAdjust="spacingAndGlyphs">4284.67</text>
<path d="M1695 268 h64 v25 h-64 a3 3 0 0 1 -3 -3 v-19 a3 3 0 0 1 3 -3 z" fill="#33a096"/>
<text x="1698.3" y="286.6" class="pl" style="stroke-width:0.7px" textLength="51.3" lengthAdjust="spacingAndGlyphs">Euro50</text>
<text x="1338" y="74" class="fibr">1(4420.00)</text>
<text x="1425" y="71" class="ath" textLength="185.5" lengthAdjust="spacingAndGlyphs">ALL TIME HIGH</text>
<text x="1668" y="417" class="fibg">0.382(4250.29)</text>
<text x="1668" y="523" class="fibg">0.5(4198.01)</text>
<text x="1668" y="629" class="fibg">0.618(4145.72)</text>
<rect x="1752" y="410" width="1" height="5" fill="#c3dcc3"/>
<text x="5" y="21" class="lg" textLength="76" lengthAdjust="spacingAndGlyphs">Euro50 <tspan style="fill:#9a9ca3">·</tspan> 4h</text>
<circle cx="106" cy="15" r="9" fill="#cde3df"/>
<circle cx="106" cy="15" r="4.4" fill="#16998a"/>
<text x="130.6" y="21" class="ohlc" style="fill:#6a6d78">O</text>
<text x="140.2" y="21" class="ohlc">4315.44</text>
<text x="192.2" y="21" class="ohlc" style="fill:#6a6d78">H</text>
<text x="201.5" y="21" class="ohlc">4323.31</text>
<text x="253.6" y="21" class="ohlc" style="fill:#6a6d78">L</text>
<text x="261" y="21" class="ohlc">4301.19</text>
<text x="312.3" y="21" class="ohlc" style="fill:#6a6d78">C</text>
<text x="321" y="21" class="ohlc">4319.38</text>
<text x="373.6" y="21" class="ohlc" textLength="85" lengthAdjust="spacingAndGlyphs">+4.59 (+0.11%)</text>
<rect x="3.5" y="31.5" width="61" height="37" rx="4" fill="none" stroke="#e35a52" stroke-width="1"/>
<text x="34" y="54.5" class="box" fill="#e35a52" text-anchor="middle">4319.38</text>
<text x="87" y="42" class="sm" text-anchor="middle">1.03</text>
<rect x="69" y="47" width="36" height="21.5" rx="4" fill="#e4e5e9"/>
<text x="87" y="62" class="box" fill="#2a2e39" text-anchor="middle">100</text>
<rect x="109.5" y="31.5" width="61" height="37" rx="4" fill="none" stroke="#34a095" stroke-width="1"/>
<text x="140" y="54.5" class="box" fill="#34a095" text-anchor="middle">4320.41</text>
<g stroke="#131722" stroke-width="1.15" fill="none" shape-rendering="geometricPrecision"><circle cx="1802.5" cy="801.5" r="4.7"/><line x1="1807.70" y1="801.50" x2="1810.10" y2="801.50"/><line x1="1806.67" y1="805.67" x2="1807.80" y2="806.80"/><line x1="1802.50" y1="806.70" x2="1802.50" y2="809.10"/><line x1="1798.33" y1="805.67" x2="1797.20" y2="806.80"/><line x1="1797.30" y1="801.50" x2="1794.90" y2="801.50"/><line x1="1798.33" y1="797.33" x2="1797.20" y2="796.20"/><line x1="1802.50" y1="796.30" x2="1802.50" y2="793.90"/><line x1="1806.67" y1="797.33" x2="1807.80" y2="796.20"/></g>
<circle cx="1849" cy="855" r="38.5" fill="#141414" shape-rendering="geometricPrecision"/>
</svg></body></html>
